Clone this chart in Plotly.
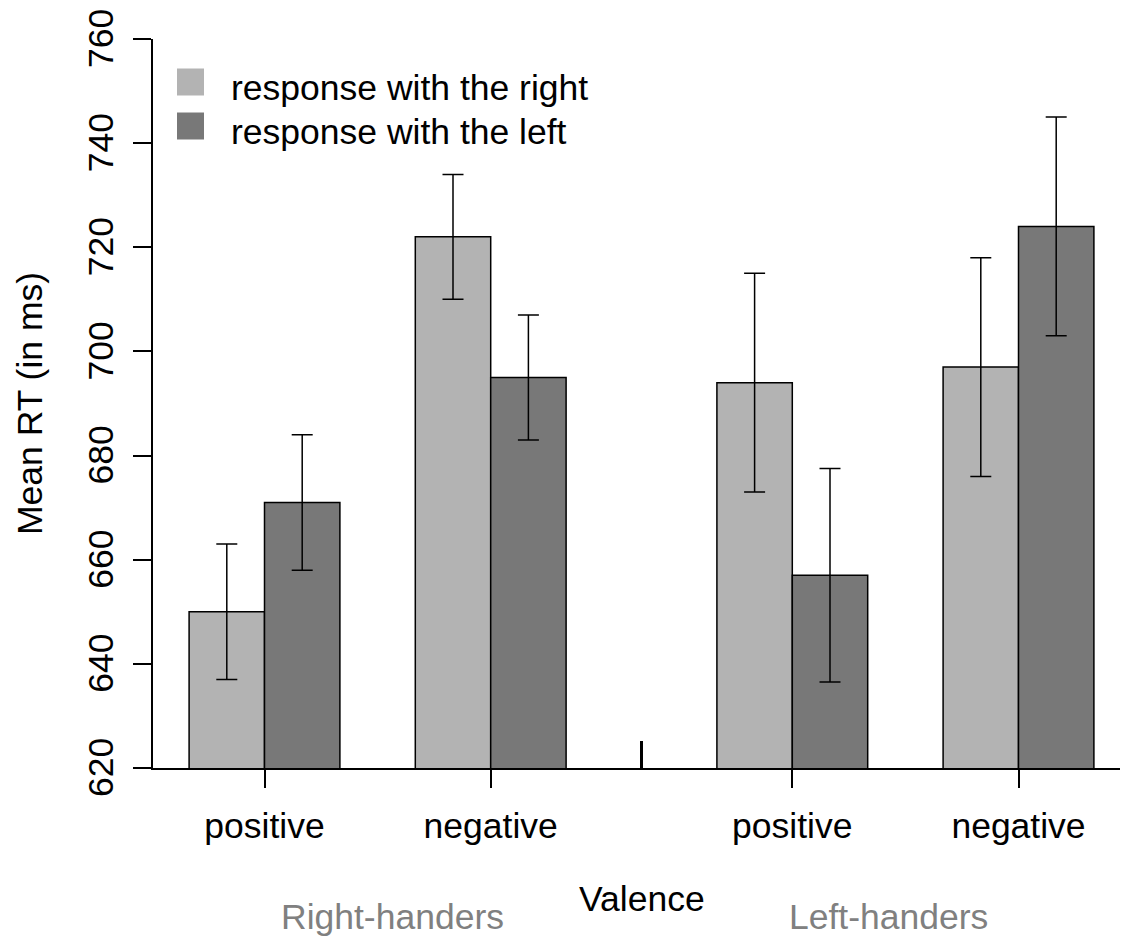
import plotly.graph_objects as go

# ---- data ----
valence = ["positive", "negative", "positive", "negative"]
group_pos = [0, 3, 7, 10]              # bar-group centres (in bar widths)
handedness = ["Right-handers", "Left-handers"]
resp_right = [650, 722, 694, 697]
resp_right_err = [13, 12, 21, 21]
resp_left = [671, 695, 657, 724]
resp_left_err = [13, 12, 20.5, 21]
series_names = ["response with the right", "response with the left"]
y_ticks = [620, 640, 660, 680, 700, 720, 740, 760]

# ---- layout geometry (image pixels; page body adds an 8px offset) ----
OFF = 8
W, H = 1128 - OFF, 939 - OFF
L, R, T, B = 153, 1128, 39, 768
pw, ph = R - L, B - T
px_per_unit = 75.4
x0_px = 264.5
xr = [(L - x0_px) / px_per_unit, (R - x0_px) / px_per_unit]

def px(x):
    return (x - L) / pw

def py(y):
    return (B - y) / ph

LIGHT = "#B3B3B3"
DARK = "#787878"
FONT = "Liberation Sans, Arial, sans-serif"
FS = 35.5

fig = go.Figure()
fig.add_bar(x=group_pos, y=resp_right, width=1, offset=-1, marker=dict(color=LIGHT, line=dict(color="black", width=1.5)),
            error_y=dict(type="data", array=resp_right_err, color="black", thickness=1.5, width=10.5),
            name=series_names[0], showlegend=False)
fig.add_bar(x=group_pos, y=resp_left, width=1, offset=0, marker=dict(color=DARK, line=dict(color="black", width=1.5)),
            error_y=dict(type="data", array=resp_left_err, color="black", thickness=1.5, width=10.5),
            name=series_names[1], showlegend=False)

shapes = []
# x-axis line extension to tick end
shapes.append(dict(type="line", xref="paper", yref="paper", x0=px(135), x1=0, y0=0, y1=0,
                   line=dict(color="black", width=1.5)))
# middle separator tick
shapes.append(dict(type="line", xref="x", yref="paper", x0=5, x1=5, y0=0, y1=py(741),
                   line=dict(color="black", width=3)))
# legend squares
for i, c in enumerate([LIGHT, DARK]):
    cy = 82 + 44 * i
    shapes.append(dict(type="rect", xref="paper", yref="paper", x0=px(177), x1=px(204),
                       y0=py(cy + 13.5), y1=py(cy - 13.5), fillcolor=c, line=dict(width=0)))

annotations = []
# y tick labels (rotated), placed on the y scale
for v in y_ticks:
    annotations.append(dict(text=str(v), xref="paper", yref="y", x=px(101), y=v,
                            xanchor="center", yanchor="middle", textangle=-90, showarrow=False,
                            font=dict(family=FONT, size=FS, color="black")))
for i, name in enumerate(series_names):
    annotations.append(dict(text=name, xref="paper", yref="paper", x=px(229), y=py(88 + 44 * i),
                            xanchor="left", yanchor="middle", showarrow=False,
                            font=dict(family=FONT, size=FS, color="black")))
annotations.append(dict(text="Mean RT (in ms)", xref="paper", yref="paper", x=px(30), y=py(404),
                        xanchor="center", yanchor="middle", textangle=-90, showarrow=False,
                        font=dict(family=FONT, size=FS, color="black")))
annotations.append(dict(text="Valence", xref="x", yref="paper", x=5, y=py(899),
                        xanchor="center", yanchor="middle", showarrow=False,
                        font=dict(family=FONT, size=FS, color="black")))
for name, xc in zip(handedness, [1.7, 8.27]):
    annotations.append(dict(text=name, xref="x", yref="paper", x=xc, y=py(917),
                            xanchor="center", yanchor="middle", showarrow=False,
                            font=dict(family=FONT, size=FS, color="#808080")))

fig.update_layout(
    width=W, height=H,
    margin=dict(l=L - OFF, r=W - (R - OFF), t=T - OFF, b=H - (B - OFF), pad=0, autoexpand=False),
    paper_bgcolor="white", plot_bgcolor="white",
    barmode="overlay",
    showlegend=False,
    shapes=shapes, annotations=annotations,
    font=dict(family=FONT, size=FS, color="black"),
    xaxis=dict(range=xr, tickmode="array", tickvals=group_pos, ticktext=valence,
               ticks="outside", ticklen=18, tickwidth=1.5, tickcolor="black",
               showline=True, linecolor="black", linewidth=1.5, showgrid=False, zeroline=False,
               tickfont=dict(family=FONT, size=FS, color="black"), ticklabelstandoff=8,
               ticklabeloverflow="allow", automargin=False),
    yaxis=dict(range=[620, 760], tickmode="array", tickvals=y_ticks, showticklabels=False,
               ticks="outside", ticklen=18, tickwidth=1.5, tickcolor="black",
               showline=True, linecolor="black", linewidth=1.5, showgrid=False, zeroline=False,
               automargin=False),
)

fig.write_html("out.html")
